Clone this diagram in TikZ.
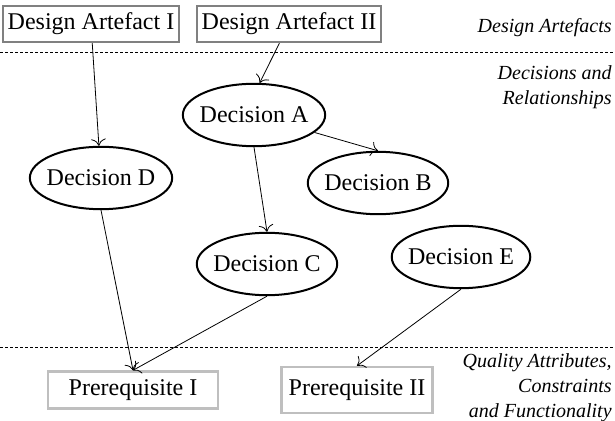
\documentclass[tikz,border=0pt,12pt]{standalone}
\usepackage{fontspec}
\setmainfont{Liberation Serif}
\usetikzlibrary{shapes,arrows.meta}
\tikzstyle{decision}=[ellipse,draw,line width=1pt,inner xsep=-2pt,inner ysep=7pt]
\tikzstyle{artefact}=[rectangle,draw=black!50,line width=1.2pt,inner xsep=2.5pt,inner ysep=3.5pt]
\tikzstyle{prereq}=[rectangle,draw=black!25,line width=1.2pt,inner xsep=3.5pt,inner ysep=4pt]
\tikzstyle{edge} = [draw,-{To[scale=1.4]},line width=0.4pt]
\tikzstyle{layer} = [font=\fontsize{10}{12.5}\selectfont\itshape,align=right,anchor=east,inner xsep=0pt]
\tikzstyle{divider} = [line width=0.4pt,dash pattern=on 1.5pt off 1pt]

\begin{document}
\begin{tikzpicture}[x=0.5pt, y=-0.5pt]

    \useasboundingbox (0,0) rectangle (615,421);

    \def\yup{52};
    \def\ylow{347};

    \node[artefact] (artI) at (91,24) {Design Artefact I};
    \node[artefact] (artII) at (289,24) {Design Artefact II};

    \foreach \pos/\name in {{(254,115)/A}, {(378,183)/B}, {(267,264)/C}, {(101,178)/D}, {(461,257)/E}}
        \node[decision] (dec\name) at \pos {Decision \name};

    \node[prereq, minimum width=85pt] (preI) at (133,390) {Prerequisite I};
    \node[prereq, minimum height=23pt] (preII) at (357,390) {Prerequisite II};

    \foreach \source/ \dest in {artI/decD, artII/decA.80, decA/decB.north, decA.south/decC.north,
                                decD.south/preI.north, decC.south/preI.north, decE.south/preII.north}
        \path[edge] (\source) -- (\dest);

    % layer separators
    \draw[divider] (0,\yup) -- (615,\yup);
    \draw[divider] (0,\ylow) -- (615,\ylow);

    \node[layer] (labArt) at (612,28) {Design Artefacts};
    \node[layer] (labDec) at (612,87) {Decisions and\\Relationships};
    \node[layer] (labQual) at (612,388) {Quality Attributes,\\Constraints\\and Functionality};

\end{tikzpicture}
\end{document}
